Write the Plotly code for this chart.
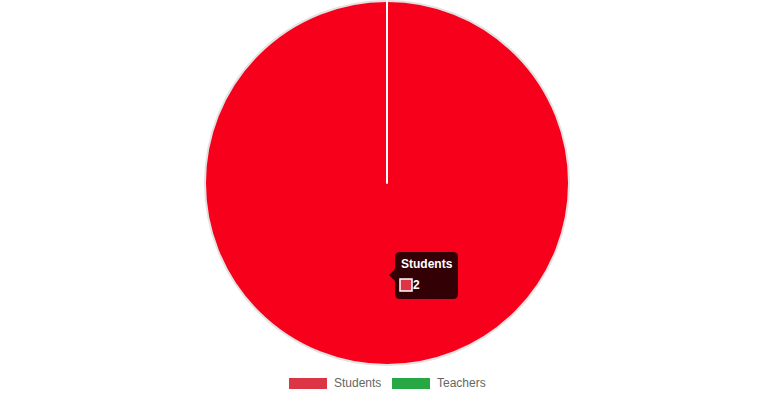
import plotly.graph_objects as go

labels = ["Students", "Teachers"]
values = [2, 0]
legend_colors = ["#dc3545", "#28a745"]
slice_colors = ["#f7001b", "#28a745"]
tooltip_title = "Students"
tooltip_value = "2"

W, H = 774, 400
cx, cy, r = 387, 183, 182


def px(x):
    return x / W


def py(y):
    return 1 - y / H


fig = go.Figure()
fig.add_trace(go.Pie(
    labels=labels, values=values, sort=False, direction="clockwise", rotation=0,
    textinfo="none", hoverinfo="skip", showlegend=False,
    marker=dict(colors=slice_colors, line=dict(color=["#e2e2e2", "#ffffff"], width=2)),
    domain=dict(x=[px(cx - r), px(cx + r)], y=[py(cy + r), py(cy - r)]),
))

# tooltip box (rounded) with caret
x0, x1, y0, y1, rad = 395, 458, 252, 299, 5
pts = [
    f"M {px(x0+rad)},{py(y0)}", f"L {px(x1-rad)},{py(y0)}",
    f"Q {px(x1)},{py(y0)} {px(x1)},{py(y0+rad)}", f"L {px(x1)},{py(y1-rad)}",
    f"Q {px(x1)},{py(y1)} {px(x1-rad)},{py(y1)}", f"L {px(x0+rad)},{py(y1)}",
    f"Q {px(x0)},{py(y1)} {px(x0)},{py(y1-rad)}", f"L {px(x0)},{py(281)}",
    f"L {px(389)},{py(275)}", f"L {px(x0)},{py(269)}", f"L {px(x0)},{py(y0+rad)}",
    f"Q {px(x0)},{py(y0)} {px(x0+rad)},{py(y0)}", "Z",
]
fig.add_shape(type="path", xref="paper", yref="paper", path=" ".join(pts),
              fillcolor="rgba(0,0,0,0.8)", line=dict(width=0), layer="above")
fig.add_shape(type="rect", xref="paper", yref="paper",
              x0=px(400), x1=px(412), y0=py(291), y1=py(279),
              fillcolor=legend_colors[0], line=dict(color="white", width=1.5), layer="above")
fig.add_annotation(xref="paper", yref="paper", x=px(399), y=py(264), xanchor="left", yanchor="middle",
                   showarrow=False, text=f"<b>{tooltip_title}</b>",
                   font=dict(color="white", size=12, family="Liberation Sans"))
fig.add_annotation(xref="paper", yref="paper", x=px(411), y=py(285), xanchor="left", yanchor="middle",
                   showarrow=False, text=f"<b>{tooltip_value}</b>",
                   font=dict(color="white", size=12, family="Liberation Sans"))

# legend (Chart.js style boxes)
leg_box_x = [289, 392]
for lab, col, bx in zip(labels, legend_colors, leg_box_x):
    fig.add_shape(type="rect", xref="paper", yref="paper",
                  x0=px(bx), x1=px(bx + 38), y0=py(389), y1=py(378),
                  fillcolor=col, line=dict(width=0))
    fig.add_annotation(xref="paper", yref="paper", x=px(bx + 43), y=py(383),
                       xanchor="left", yanchor="middle", showarrow=False, text=lab,
                       font=dict(color="#666", size=12, family="Liberation Sans"))

fig.update_layout(
    width=W, height=H, margin=dict(l=0, r=0, t=0, b=0),
    paper_bgcolor="white", plot_bgcolor="white", showlegend=False,
    font=dict(family="Liberation Sans"),
)
fig.write_html("out.html", config={"displayModeBar": False},
               post_script="document.body.style.margin='0px';document.body.style.overflow='hidden';")
